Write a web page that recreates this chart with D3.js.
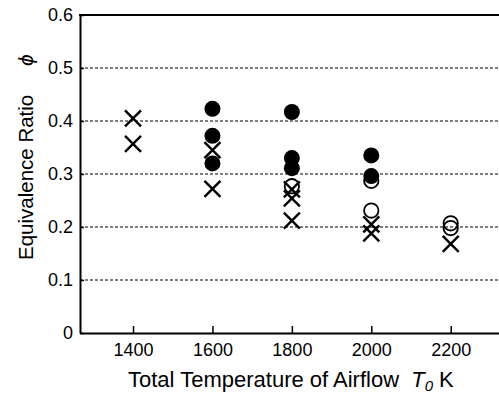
<!DOCTYPE html>
<html>
<head>
<meta charset="utf-8">
<script src="https://cdn.jsdelivr.net/npm/d3@7"></script>
<style>
  body { margin: 0; background: #fff; }
  text { font-family: "Liberation Sans", Arial, sans-serif; fill: #000; }
</style>
</head>
<body>
<div id="chart"></div>
<script>
// data
var xTicks = [1400, 1600, 1800, 2000, 2200];
var yTicks = [0, 0.1, 0.2, 0.3, 0.4, 0.5, 0.6];
var filledT = [1600, 1600, 1600, 1800, 1800, 1800, 2000, 2000];
var filledPhi = [0.423, 0.372, 0.320, 0.417, 0.330, 0.311, 0.335, 0.296];
var openT = [1800, 2000, 2000, 2200, 2200];
var openPhi = [0.277, 0.287, 0.231, 0.207, 0.198];
var crossT = [1400, 1400, 1600, 1600, 1800, 1800, 1800, 2000, 2000, 2200];
var crossPhi = [0.405, 0.357, 0.345, 0.272, 0.271, 0.254, 0.212, 0.205, 0.188, 0.168];

var width = 499, height = 394;
var padL = 80, padT = 15, padB = 333, padR = 499;

var svg = d3.select("#chart").append("svg")
    .attr("width", width).attr("height", height);

var x = d3.scaleLinear().domain([1266.5, 2321.6]).range([padL, padR]);
var y = d3.scaleLinear().domain([0, 0.6]).range([padB, padT]);

// dashed grid
svg.append("g").selectAll("line")
    .data(yTicks.filter(function (d) { return d > 0 && d < 0.6; }))
    .enter().append("line")
    .attr("x1", padL).attr("x2", padR)
    .attr("y1", function (d) { return y(d); })
    .attr("y2", function (d) { return y(d); })
    .attr("stroke", "#000").attr("stroke-width", 1)
    .attr("stroke-dasharray", "3,2");

// axes, ticks pointing inward
var xAxis = svg.append("g").attr("transform", "translate(0," + padB + ")")
    .call(d3.axisBottom(x).tickValues(xTicks).tickSizeInner(-7).tickSizeOuter(0)
        .tickPadding(10).tickFormat(d3.format("d")));
var yAxis = svg.append("g").attr("transform", "translate(" + padL + ",0)")
    .call(d3.axisLeft(y).tickValues(yTicks).tickSizeInner(-4).tickSizeOuter(0)
        .tickPadding(7).tickFormat(function (d) { return d === 0 ? "0" : d3.format(".1f")(d); }));
[xAxis, yAxis].forEach(function (g) {
    g.select(".domain").attr("stroke", "#000").attr("stroke-width", 2);
    g.selectAll(".tick line").attr("stroke", "#000").attr("stroke-width", 1.5);
    g.selectAll(".tick text").attr("font-size", 18)
        .attr("font-family", "Liberation Sans, Arial, sans-serif").attr("fill", "#000");
});

// top border
svg.append("line").attr("x1", padL - 1).attr("x2", padR)
    .attr("y1", padT).attr("y2", padT)
    .attr("stroke", "#000").attr("stroke-width", 2);

var r = 8;
// open circles
svg.append("g").selectAll("circle").data(openT).enter().append("circle")
    .attr("cx", function (d) { return x(d); })
    .attr("cy", function (d, i) { return y(openPhi[i]); })
    .attr("r", r - 0.8).attr("fill", "none")
    .attr("stroke", "#000").attr("stroke-width", 1.8);

// filled circles
svg.append("g").selectAll("circle").data(filledT).enter().append("circle")
    .attr("cx", function (d) { return x(d); })
    .attr("cy", function (d, i) { return y(filledPhi[i]); })
    .attr("r", r).attr("fill", "#000");

// crosses
var c = 8;
svg.append("g").selectAll("path").data(crossT).enter().append("path")
    .attr("d", function (d, i) {
        var cx = x(d), cy = y(crossPhi[i]);
        return "M" + (cx - c) + "," + (cy - c) + "L" + (cx + c) + "," + (cy + c) +
            "M" + (cx - c) + "," + (cy + c) + "L" + (cx + c) + "," + (cy - c);
    })
    .attr("stroke", "#000").attr("stroke-width", 2.4).attr("fill", "none");

// axis titles
var xt = svg.append("text").attr("x", 128).attr("y", 387).attr("font-size", 22);
xt.append("tspan").text("Total Temperature of Airflow ");
xt.append("tspan").attr("dx", 6).attr("font-style", "italic").text("T");
xt.append("tspan").attr("font-style", "italic").attr("font-size", 15).attr("dy", 4).text("0");
xt.append("tspan").attr("dy", -4).text(" K");

svg.append("text").attr("transform", "translate(33,260) rotate(-90)")
    .attr("font-size", 20.5).text("Equivalence Ratio");
svg.append("text").attr("transform", "translate(33,66) rotate(-90)")
    .attr("font-size", 21).attr("font-style", "italic").text("\u03d5");
</script>
</body>
</html>
